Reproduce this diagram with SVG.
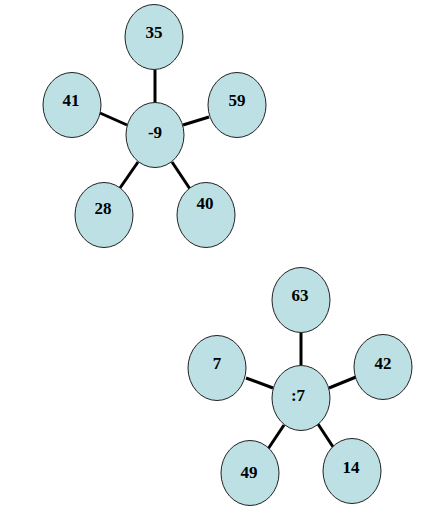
<svg xmlns="http://www.w3.org/2000/svg" width="435" height="524" viewBox="0 0 435 524">
<style>
.n ellipse{fill:#BCE0E4;stroke:#222;stroke-width:1}
.n text{font-family:"Liberation Serif","Times New Roman",serif;font-weight:bold;font-size:17px;fill:#000;text-anchor:middle}
.c line{stroke:#000;stroke-width:3}
</style>
<rect width="435" height="524" fill="#fff"/>
<g id="connectors" class="c">
<line x1="155" y1="70" x2="155" y2="103"/>
<line x1="100" y1="113" x2="127" y2="125"/>
<line x1="183" y1="125" x2="209" y2="117"/>
<line x1="138" y1="162" x2="120" y2="188"/>
<line x1="172" y1="162" x2="190" y2="189"/>
<line x1="301" y1="333" x2="301" y2="365"/>
<line x1="246" y1="378" x2="273" y2="388"/>
<line x1="329" y1="388" x2="356" y2="377"/>
<line x1="284" y1="425" x2="266" y2="452"/>
<line x1="318" y1="424" x2="337" y2="453"/>
</g>
<g id="n35" class="n"><ellipse cx="154" cy="37" rx="29" ry="32.5"/><text x="154" y="38">35</text></g>
<g id="n41" class="n"><ellipse cx="72" cy="105" rx="29" ry="32.5"/><text x="71" y="106">41</text></g>
<g id="n59" class="n"><ellipse cx="237" cy="105" rx="29" ry="32.5"/><text x="237" y="106">59</text></g>
<g id="nm9" class="n"><ellipse cx="155" cy="135" rx="29" ry="32.5"/><text x="155" y="138">-9</text></g>
<g id="n28" class="n"><ellipse cx="104" cy="215" rx="29" ry="32.5"/><text x="103" y="214">28</text></g>
<g id="n40" class="n"><ellipse cx="206" cy="215" rx="29" ry="32.5"/><text x="205" y="209">40</text></g>
<g id="n63" class="n"><ellipse cx="301" cy="300" rx="29" ry="32.5"/><text x="300" y="301">63</text></g>
<g id="n7" class="n"><ellipse cx="217" cy="368" rx="29" ry="32.5"/><text x="217" y="369">7</text></g>
<g id="n42" class="n"><ellipse cx="383" cy="367" rx="29" ry="32.5"/><text x="383" y="369">42</text></g>
<g id="nd7" class="n"><ellipse cx="301" cy="398" rx="29" ry="32.5"/><text x="298" y="401">:7</text></g>
<g id="n49" class="n"><ellipse cx="250" cy="473" rx="29" ry="32.5"/><text x="249" y="478">49</text></g>
<g id="n14" class="n"><ellipse cx="352" cy="471" rx="29" ry="32.5"/><text x="351" y="473">14</text></g>
</svg>
